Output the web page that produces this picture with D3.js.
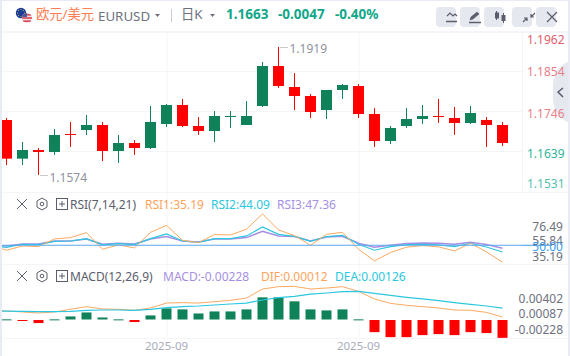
<!DOCTYPE html>
<html><head><meta charset="utf-8">
<script src="https://cdn.jsdelivr.net/npm/d3@7/dist/d3.min.js"></script>
<style>html,body{margin:0;padding:0;background:#fff;overflow:hidden}svg{display:block}
text{font-family:"Noto Sans","Noto Sans CJK SC",sans-serif}</style></head><body>
<svg id="c" width="570" height="356"></svg>
<script>
// ---- data ----
const opens  = [1.17223,1.16181,1.16414,1.16361,1.16846,1.16953,1.17088,1.16388,1.16603,1.16468,1.17115,1.17627,1.17061,1.16926,1.17303,1.17088,1.17600,1.18677];
const closes = [1.16181,1.16414,1.16361,1.16819,1.16819,1.17088,1.16388,1.16603,1.16468,1.17169,1.17627,1.17061,1.16926,1.17330,1.17330,1.17330,1.18677,1.18138];
const highs  = [1.17277,1.16630,1.16468,1.16980,1.17169,1.17357,1.17169,1.16819,1.16684,1.17600,1.17654,1.17788,1.17303,1.17465,1.17465,1.17734,1.18785,1.19190];
const lows   = [1.16010,1.16010,1.15740,1.16280,1.16495,1.16819,1.16118,1.16064,1.16280,1.16441,1.17034,1.17034,1.16819,1.16630,1.17007,1.17142,1.17573,1.18085];
const opens2  = [1.18112,1.17869,1.17492,1.18031,1.18138,1.17384,1.16657,1.17061,1.17250,1.17330,1.17277,1.17142,1.17223,1.17088];
const closes2 = [1.17869,1.17438,1.18031,1.18165,1.17384,1.16657,1.17007,1.17250,1.17330,1.17303,1.17142,1.17411,1.17088,1.16603];
const highs2  = [1.18489,1.17923,1.18031,1.18192,1.18192,1.17546,1.17061,1.17546,1.17627,1.17788,1.17573,1.17600,1.17303,1.17169];
const lows2   = [1.17492,1.17277,1.17250,1.17788,1.17277,1.16495,1.16576,1.17007,1.17115,1.17142,1.16819,1.17115,1.16495,1.16522];
const rsi1 = [50.3,45.6,49.4,48.8,55.6,56.8,61.2,46.5,50.3,47.7,61.5,67.7,54.4,52.4,59.5,59.2,64.2,77.8,63.6,58.6,50.0,59.7,61.5,46.5,36.2,43.6,48.3,49.7,48.6,45.0,51.8,44.1,35.0];
const rsi2 = [49.5,48.2,50.9,50.6,53.5,53.8,55.9,50.3,51.5,50.6,55.9,60.0,53.8,52.6,55.9,55.9,58.3,66.2,59.7,57.9,53.5,57.6,58.8,50.9,45.6,48.8,50.6,50.9,50.3,48.8,51.8,48.5,44.0];
const rsi3 = [50.0,49.4,51.2,51.2,53.8,53.8,55.6,50.9,51.8,51.2,55.6,57.7,53.8,52.9,55.6,55.6,56.8,62.4,58.3,57.7,53.8,57.3,57.9,51.8,48.2,50.0,51.5,52.1,51.8,50.9,52.7,50.6,47.4];
const dif = [0.00098,0.00089,0.00077,0.00064,0.00077,0.00111,0.00145,0.00115,0.00111,0.00098,0.00128,0.00191,0.00196,0.00191,0.00208,0.00226,0.00255,0.00370,0.00400,0.00404,0.00370,0.00383,0.00400,0.00340,0.00243,0.00187,0.00162,0.00145,0.00128,0.00102,0.00098,0.00072,0.00012];
const dea = [0.00089,0.00089,0.00085,0.00081,0.00081,0.00085,0.00098,0.00102,0.00102,0.00098,0.00111,0.00132,0.00145,0.00153,0.00166,0.00179,0.00191,0.00230,0.00260,0.00277,0.00306,0.00319,0.00336,0.00340,0.00315,0.00289,0.00264,0.00243,0.00221,0.00196,0.00174,0.00153,0.00126];
const macd = [0.00002,-0.00002,-0.00039,0.00002,0.00039,0.00090,0.00026,0.00002,-0.00026,0.00052,0.00142,0.00129,0.00077,0.00103,0.00103,0.00129,0.00283,0.00283,0.00232,0.00129,0.00116,0.00129,0.00002,-0.00155,-0.00219,-0.00219,-0.00193,-0.00180,-0.00193,-0.00155,-0.00167,-0.00228];
const priceTicks = ["1.1962","1.1854","1.1746","1.1639","1.1531"];
const rsiTicks = ["76.49","55.84","50.00","35.19"];
const macdTicks = ["0.00402","0.00087","-0.00228"];
const dateLabels = ["2025-09","2025-09"];
const dateSlots = [10,22];
// ---------------------------------------------
const O = opens.concat(opens2), C = closes.concat(closes2), H = highs.concat(highs2), L = lows.concat(lows2);
const svg = d3.select("#c");
const GREEN="#10825a", RED="#ff0000", GRID="#f4f5f9", EDGE="#e8ebf3";
const x = d3.scaleLinear().domain([0,31]).range([6.5,502.5]);
const yP = d3.scaleLinear().domain([1.1531,1.1962]).range([191,31]);
const yR = d3.scaleLinear().domain([35,77]).range([262.2,214.8]);
const yD = d3.scaleLinear().domain([-0.003,0.005]).range([318+0.003*7833,318-0.005*7833]);
const yB = d3.scaleLinear().domain([-0.003,0.005]).range([320+0.003*7833,320-0.005*7833]);

svg.append("rect").attr("width",570).attr("height",356).attr("fill","#fff");
const defs=svg.append("defs");
defs.append("clipPath").attr("id","plot").append("rect").attr("x",2).attr("y",31).attr("width",520).attr("height",325);
const flagClip=defs.append("clipPath").attr("id","fl"); flagClip.append("circle").attr("cx",27).attr("cy",18).attr("r",5);

// grid
const hl=(yy,x1,x2,col,w)=>svg.append("line").attr("x1",x1).attr("x2",x2).attr("y1",yy).attr("y2",yy).attr("stroke",col).attr("stroke-width",w||1);
[71.5,111.5,151.5].forEach(v=>hl(v,2,522,GRID));
hl(32,2,568,GRID,2);
hl(192.5,2,568,GRID); hl(264.5,2,568,GRID); hl(338.5,2,568,GRID);
svg.selectAll("line.v").data(dateSlots).join("line").attr("x1",d=>Math.round(x(d))+0).attr("x2",d=>Math.round(x(d))+0)
 .attr("y1",32).attr("y2",339).attr("stroke",GRID).attr("stroke-width",1);
svg.append("line").attr("x1",522.5).attr("x2",522.5).attr("y1",32).attr("y2",192).attr("stroke",GRID);

const IC="#5a5d6c";
// side tab sits under the price labels
svg.append("path").attr("d","M570,61 Q551,68 553,92 Q551,116 570,123Z").attr("fill","#e6e8ef");
svg.append("path").attr("d","M563,88l-5,4l5,5").attr("fill","none").attr("stroke",IC).attr("stroke-width",1.5);

const g=svg.append("g").attr("clip-path","url(#plot)");
// candles
const idx=d3.range(O.length);
const up=i=>C[i]>=O[i];
g.selectAll("line.w").data(idx).join("line").attr("x1",i=>x(i)).attr("x2",i=>x(i))
 .attr("y1",i=>yP(H[i])).attr("y2",i=>yP(L[i])).attr("stroke",i=>up(i)?GREEN:RED).attr("stroke-width",1);
g.selectAll("rect.b").data(idx).join("rect").attr("x",i=>x(i)-5.5).attr("width",11)
 .attr("y",i=>Math.min(yP(O[i]),yP(C[i]))).attr("height",i=>Math.max(1,Math.abs(yP(O[i])-yP(C[i]))))
 .attr("fill",i=>up(i)?GREEN:RED);

// rsi
const xL=(d,i)=>x(i-1);
const line=(sc)=>d3.line().x(xL).y(d=>sc(d));
const path=(data,sc,col,w)=>g.append("path").attr("d",line(sc)(data)).attr("fill","none").attr("stroke",col).attr("stroke-width",w||1);
const ORANGE="#fbaa62", CYAN="#2cc7e0", PURPLE="#a68fe3";
path(rsi3,yR,PURPLE,1.5);
path(rsi2,yR,CYAN,1.2);
path(rsi1,yR,ORANGE,1);
g.append("line").attr("x1",2).attr("x2",522).attr("y1",yR(50)).attr("y2",yR(50)).attr("stroke","#5aa9ee").attr("stroke-width",1.2);
svg.append("line").attr("x1",522).attr("x2",552).attr("y1",yR(50)).attr("y2",yR(50)).attr("stroke","#5aa9ee").attr("stroke-width",1.2);

// macd
g.selectAll("rect.m").data(macd).join("rect").attr("x",(d,i)=>x(i)-5).attr("width",10)
 .attr("y",d=>d>=0?yB(d)-0.5:yB(0)).attr("height",d=>Math.max(1,Math.abs(yB(d)-yB(0))))
 .attr("fill",d=>d>=0?GREEN:RED);
path(dif,yD,ORANGE,1);
path(dea,yD,CYAN,1.2);

// labels
const T=(s,xx,yy,col,fs,anc,w)=>svg.append("text").attr("x",xx).attr("y",yy).attr("fill",col).attr("font-size",fs).attr("text-anchor",anc||"start").attr("font-weight",w||400).text(s);
// high/low marks
T("1.1919",x(17)+11,53,"#8f929d",12);
T("1.1574",x(2)+11,182,"#8f929d",12);
svg.append("line").attr("x1",x(17)+2).attr("x2",x(17)+9).attr("y1",47.5).attr("y2",47.5).attr("stroke","#8f929d").attr("stroke-dasharray","1 1");
svg.append("line").attr("x1",x(2)+2).attr("x2",x(2)+9).attr("y1",175.5).attr("y2",175.5).attr("stroke","#8f929d").attr("stroke-dasharray","1 1");
const pY=[44,76,118,158,188], pC=["#e0606c","#e8808a","#e8808a","#2eb39a","#55c0ac"];
priceTicks.forEach((t,i)=>T(t,527,pY[i],pC[i],12));
const rY=[231,245,250.5,261], rC=["#6e7180","#6e7180","#3b9df0","#6e7180"];
rsiTicks.forEach((t,i)=>T(t,563,rY[i],rC[i],12,"end"));
const mY=[303,318,334];
macdTicks.forEach((t,i)=>T(t,563,mY[i],"#6e7180",12,"end"));
dateLabels.forEach((t,i)=>T(t,x(dateSlots[i]),350,"#a9acbb",11.5,"middle"));

// header
svg.append("circle").attr("cx",21).attr("cy",13).attr("r",5.2).attr("fill","#1d3f9a");
d3.range(8).forEach(k=>svg.append("circle").attr("cx",21+3.4*Math.cos(k*Math.PI/4)).attr("cy",13+3.4*Math.sin(k*Math.PI/4)).attr("r",0.5).attr("fill","#e8c53a"));
svg.append("circle").attr("cx",27).attr("cy",18).attr("r",5).attr("fill","#f3dede");
d3.range(3).forEach(k=>svg.append("rect").attr("clip-path","url(#fl)").attr("x",22).attr("width",10).attr("y",14+k*3.2).attr("height",1.6).attr("fill","#d6485a"));
svg.append("rect").attr("clip-path","url(#fl)").attr("x",22).attr("y",13).attr("width",5).attr("height",4).attr("fill","#4a5a9a");
T("欧元/美元",36,19,"#ff7d52",13.3);
T("EURUSD",98,21,"#6e7180",13.3);
const tri=(cx,cy,col)=>svg.append("path").attr("d",`M${cx-2.5},${cy-1.5}L${cx+2.5},${cy-1.5}L${cx},${cy+1.5}Z`).attr("fill",col);
tri(157.5,15.5,"#6e7180");
svg.append("line").attr("x1",171.5).attr("x2",171.5).attr("y1",9).attr("y2",22).attr("stroke","#c9ccd6");
T("日K",181,19,"#6e7180",13.3);
tri(212.5,15.5,"#6e7180");
const HG="#12a78a";
T("1.1663",226,19,HG,13.5,"start",700);
T("-0.0047",278,19,HG,13.5,"start",700);
T("-0.40%",335,19,HG,13.5,"start",700);
// toolbar
[441,465,489,517,541].forEach(bx=>svg.append("rect").attr("x",bx-5).attr("y",7).attr("width",20).attr("height",20).attr("rx",4).attr("fill","#e6e8ef"));
const ic=(d,sw,fill)=>svg.append("path").attr("d",d).attr("fill",fill||"none").attr("stroke",IC).attr("stroke-width",sw||1);
ic("M447,16l3,-3l3,3l2,-2l2,2",1.2); ic("M446,21.5h11",1.5);
ic("M470,20l1,-3l6,-5l2,2l-6,5z",.6,IC); ic("M469,22.5h12",1.5);
ic("M496.5,11v9M503.5,13v10",1); svg.append("rect").attr("x",495).attr("y",12.5).attr("width",4).attr("height",6).attr("fill",IC); svg.append("rect").attr("x",501.5).attr("y",15).attr("width",4).attr("height",6).attr("fill",IC);
ic("M523,22l4,-4M527,21v-3h-3M535,13l-4,4M531,14v3h3",1.2);
ic("M547,12l10,10M557,12l-10,10",1.2);
// pane heads
const pane=(py)=>{
 ic(`M17,${py-5}l10,10M27,${py-5}l-10,10`,1);
 svg.append("path").attr("d",`M42,${py-6}l5,3v6l-5,3l-5,-3v-6z`).attr("fill","none").attr("stroke",IC);
 svg.append("circle").attr("cx",42).attr("cy",py).attr("r",1.8).attr("fill","none").attr("stroke",IC);
 svg.append("rect").attr("x",56.5).attr("y",py-5.5).attr("width",11).attr("height",11).attr("fill","none").attr("stroke",IC);
 ic(`M59,${py}h6M62,${py-3}v6`,1);
};
pane(204); pane(276);
T("RSI(7,14,21)",70,209,"#5a5d6c",12);
T("RSI1:35.19",145,209,"#fda45a",12);
T("RSI2:44.09",211,209,"#2cc7e0",12);
T("RSI3:47.36",277,209,"#a68fe3",12);
T("MACD(12,26,9)",70,281,"#5a5d6c",12);
T("MACD:-0.00228",163,281,"#a68fe3",12);
T("DIF:0.00012",261,281,"#fda45a",12);
T("DEA:0.00126",335,281,"#2cc7e0",12);
// page edges
svg.append("rect").attr("x",0).attr("y",0).attr("width",2).attr("height",356).attr("fill",EDGE);
svg.append("rect").attr("x",0).attr("y",0).attr("width",570).attr("height",1).attr("fill",EDGE);
svg.append("rect").attr("x",568).attr("y",0).attr("width",2).attr("height",356).attr("fill",EDGE);
</script></body></html>
